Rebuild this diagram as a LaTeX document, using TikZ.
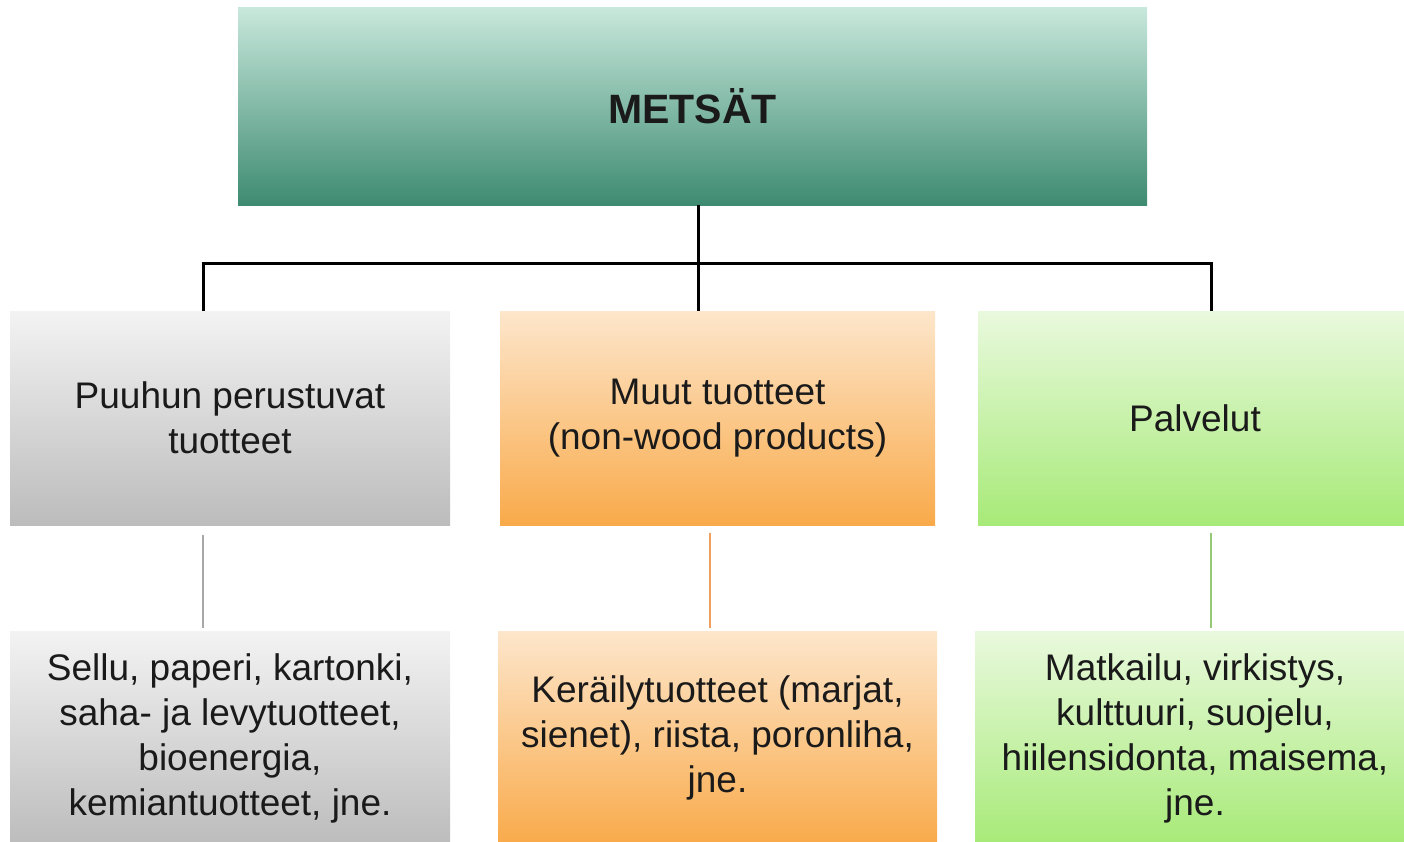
\documentclass[tikz,border=0pt]{standalone}
\usepackage{fontspec}
\setmainfont{Liberation Sans}
\definecolor{tealtop}{HTML}{C8E8DC}
\definecolor{tealbot}{HTML}{3E8B71}
\definecolor{greytop}{HTML}{F3F3F3}
\definecolor{greybot}{HTML}{BCBCBC}
\definecolor{orangetop}{HTML}{FDE6CB}
\definecolor{orangebot}{HTML}{F9AA4A}
\definecolor{greentop}{HTML}{E9F9DD}
\definecolor{greenbot}{HTML}{A7EA78}
\definecolor{txt}{HTML}{1A1A1A}
\definecolor{greyline}{HTML}{A8A8A8}
\definecolor{orangeline}{HTML}{EFA060}
\definecolor{greenline}{HTML}{95C978}
\begin{document}
\begin{tikzpicture}[x=1pt,y=-1pt,
  box/.style={draw=none, inner sep=0pt, align=center, text=txt,
    font=\fontsize{37}{45}\selectfont},
  greybox/.style={box, top color=greytop, bottom color=greybot},
  orangebox/.style={box, top color=orangetop, bottom color=orangebot},
  greenbox/.style={box, top color=greentop, bottom color=greenbot},
  tree/.style={line width=3pt, black},
  link/.style={line width=2pt}]
\useasboundingbox (0,0) rectangle (1404,841);

\node[box, top color=tealtop, bottom color=tealbot, minimum width=909pt, minimum height=198pt,
  font=\fontsize{41}{49}\bfseries\selectfont] (top) at (692.5,106) {METSÄT};

\node[greybox, minimum width=440pt, minimum height=214pt] (g1) at (230,418)
  {Puuhun perustuvat\\tuotteet};
\node[orangebox, minimum width=435pt, minimum height=214pt] (o1) at (717.5,418)
  {Muut tuotteet\\(non-wood products)};
\node[greenbox, minimum width=434pt, minimum height=214pt] (n1) at (1195,418)
  {Palvelut};

\node[greybox, minimum width=440pt, minimum height=214pt] (g2) at (230,738)
  {Sellu, paperi, kartonki,\\saha- ja levytuotteet,\\bioenergia,\\kemiantuotteet, jne.};
\node[orangebox, minimum width=439pt, minimum height=214pt] (o2) at (717.5,738)
  {Keräilytuotteet (marjat,\\sienet), riista, poronliha,\\jne.};
\node[greenbox, minimum width=440pt, minimum height=214pt] (n2) at (1195,738)
  {Matkailu, virkistys,\\kulttuuri, suojelu,\\hiilensidonta, maisema,\\jne.};

\coordinate (jl) at (203,263);
\coordinate (jc) at (698,263);
\coordinate (jr) at (1211,263);
\coordinate (ko) at (710,263);

\draw[tree] (jl |- g1.north) -- (jl) -- (jr) -- (jr |- n1.north);
\draw[tree] (jc |- top.south) -- (jc |- o1.north);

\draw[link, greyline] ([yshift=-10pt]jl |- g1.south) -- ([yshift=3pt]jl |- g2.north);
\draw[link, orangeline] ([yshift=-8pt]ko |- o1.south) -- ([yshift=3pt]ko |- o2.north);
\draw[link, greenline] ([yshift=-8pt]jr |- n1.south) -- ([yshift=3pt]jr |- n2.north);
\end{tikzpicture}
\end{document}
